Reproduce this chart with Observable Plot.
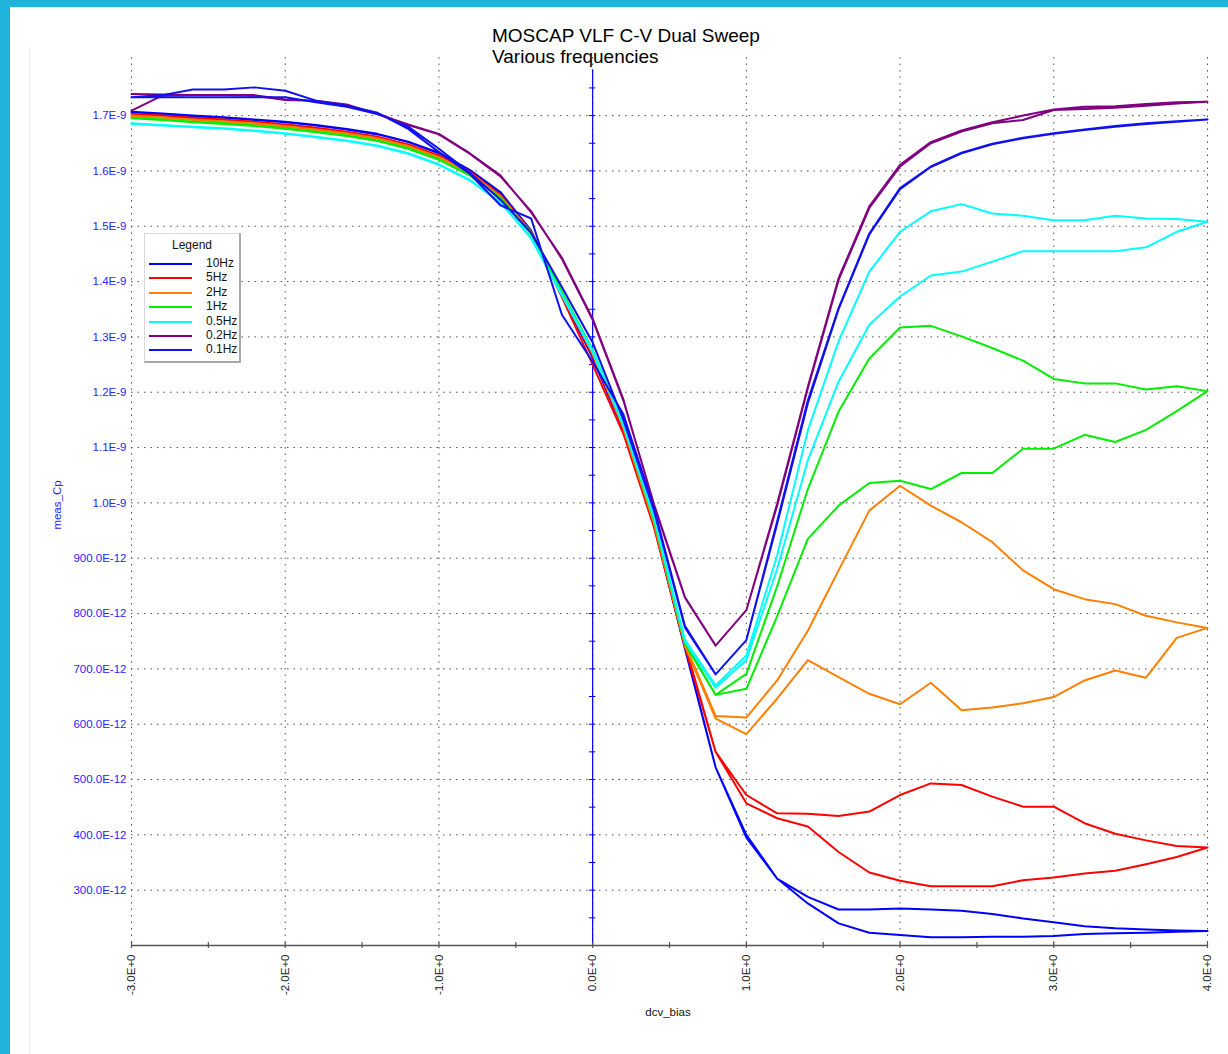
<!DOCTYPE html>
<html>
<head>
<meta charset="utf-8">
<script src="https://cdn.jsdelivr.net/npm/d3@7"></script>
<script src="https://cdn.jsdelivr.net/npm/@observablehq/plot@0.6"></script>
<style>
  html, body { margin: 0; padding: 0; background: #fff; }
  #wrap { position: relative; width: 1228px; height: 1054px; overflow: hidden; background: #fff;
          font-family: "Liberation Sans", Arial, sans-serif; }
  #wrap svg { position: absolute; left: 0; top: 0; }
  .abs { position: absolute; white-space: nowrap; }
</style>
</head>
<body>
<div id="wrap"></div>
<script>
// ---------------- DATA ----------------
const bias = [-3.0,-2.8,-2.6,-2.4,-2.2,-2.0,-1.8,-1.6,-1.4,-1.2,-1.0,-0.8,-0.6,-0.4,-0.2,0.0,0.2,0.4,0.6,0.8,1.0,1.2,1.4,1.6,1.8,2.0,2.2,2.4,2.6,2.8,3.0,3.2,3.4,3.6,3.8,4.0];

// capacitance in pF, branch A = forward sweep (-3 -> 4), branch B = return sweep (values listed at the same bias order)
const cp10A  = [1706,1703,1699,1696,1692,1688,1682,1675,1666,1652,1632,1601,1560,1490,1375,1262,1130,958,737,522,395,321,276,240,223,219,215,215,216,216,217,221,222,223,225,226];
const cp10B  = [1707,1704,1700,1697,1693,1689,1683,1676,1667,1653,1633,1602,1562,1492,1378,1266,1133,960,740,522,400,321,288,265,265,267,265,263,257,249,242,235,231,229,227,226];
const cp5A   = [1702,1699,1695,1692,1688,1683,1677,1670,1661,1647,1627,1598,1556,1488,1372,1250,1125,955,740,550,457,430,415,369,332,317,307,307,307,318,323,330,335,347,360,377];
const cp5B   = [1703,1700,1696,1693,1689,1684,1678,1671,1662,1648,1628,1599,1557,1490,1380,1265,1135,962,745,550,472,439,438,434,442,472,493,490,469,451,451,421,402,390,380,377];
const cp2A   = [1699,1696,1692,1689,1685,1680,1674,1667,1658,1644,1624,1596,1553,1487,1378,1270,1135,962,742,610,582,646,716,685,655,636,675,625,630,638,649,679,697,684,756,774];
const cp2B   = [1700,1697,1693,1690,1686,1681,1675,1668,1659,1645,1625,1597,1554,1489,1381,1272,1138,965,745,615,612,679,769,878,986,1031,995,965,929,878,844,826,817,796,784,774];
const cp1A   = [1695,1692,1688,1685,1681,1676,1670,1663,1654,1640,1620,1592,1551,1486,1380,1275,1140,968,746,653,664,795,935,995,1036,1040,1025,1054,1054,1098,1098,1123,1110,1132,1166,1202];
const cp1B   = [1696,1693,1689,1686,1682,1677,1671,1664,1655,1641,1621,1593,1552,1488,1382,1277,1142,970,748,653,691,849,1025,1165,1261,1317,1320,1301,1280,1257,1224,1216,1216,1205,1211,1202];
const cp05A  = [1685,1682,1679,1676,1672,1667,1661,1654,1645,1631,1611,1583,1543,1478,1375,1272,1140,972,750,666,716,880,1077,1219,1322,1373,1411,1418,1436,1455,1455,1455,1455,1462,1490,1508];
const cp05B  = [1686,1683,1680,1677,1673,1668,1662,1655,1646,1632,1612,1584,1544,1480,1377,1275,1143,975,753,670,724,905,1131,1292,1418,1490,1527,1540,1523,1519,1511,1511,1519,1514,1513,1508];
const cp02A  = [1709,1736,1737,1737,1736,1728,1727,1719,1704,1683,1666,1631,1590,1527,1441,1331,1185,997,830,742,806,995,1207,1403,1533,1608,1650,1671,1686,1692,1710,1712,1714,1718,1722,1725];
const cp02B  = [1739,1738,1737,1737,1737,1729,1727,1720,1703,1684,1667,1632,1592,1525,1443,1333,1187,995,829,742,806,998,1210,1406,1536,1611,1652,1673,1688,1700,1711,1716,1717,1721,1724,1725];
const cp01A  = [1733,1737,1747,1747,1751,1745,1727,1718,1705,1676,1634,1595,1538,1514,1340,1255,1160,990,778,690,752,966,1185,1352,1487,1569,1608,1633,1649,1660,1668,1675,1681,1686,1690,1693];
const cp01B  = [1733,1733,1733,1733,1733,1733,1724,1716,1703,1680,1640,1597,1548,1488,1390,1290,1150,985,775,690,752,962,1180,1350,1485,1567,1607,1632,1648,1659,1667,1674,1680,1685,1689,1693];

const freqs  = ["10Hz","5Hz","2Hz","1Hz","0.5Hz","0.2Hz","0.1Hz"];
const colors = ["#0000ff","#ff0000","#ff8000","#00ee00","#00ffff","#800080","#1010ee"];
const seriesA = [cp10A, cp5A, cp2A, cp1A, cp05A, cp02A, cp01A];
const seriesB = [cp10B, cp5B, cp2B, cp1B, cp05B, cp02B, cp01B];

const xTicks = [-3,-2,-1,0,1,2,3,4];
const xTickLabels = ["-3.0E+0","-2.0E+0","-1.0E+0","0.0E+0","1.0E+0","2.0E+0","3.0E+0","4.0E+0"];
const xMinor = [-3,-2.5,-2,-1.5,-1,-0.5,0,0.5,1,1.5,2,2.5,3,3.5,4];
const yTicks = [300,400,500,600,700,800,900,1000,1100,1200,1300,1400,1500,1600,1700];
const yTickLabels = ["300.0E-12","400.0E-12","500.0E-12","600.0E-12","700.0E-12","800.0E-12","900.0E-12","1.0E-9","1.1E-9","1.2E-9","1.3E-9","1.4E-9","1.5E-9","1.6E-9","1.7E-9"];
const yAxisTicks = [250,300,350,400,450,500,550,600,650,700,750,800,850,900,950,1000,1050,1100,1150,1200,1250,1300,1350,1400,1450,1500,1550,1600,1650,1700,1750];

// ---------------- BUILD ----------------
const rows = [];
freqs.forEach((f, k) => {
  const A = seriesA[k], B = seriesB[k];
  for (let i = 0; i < bias.length; i++) rows.push({freq: f, bias: bias[i], cp: A[i]});
  for (let i = bias.length - 1; i >= 0; i--) rows.push({freq: f, bias: bias[i], cp: B[i]});
});
const drawOrder = ["10Hz","5Hz","2Hz","1Hz","0.5Hz","0.2Hz","0.1Hz"];

const xLab = new Map(xTicks.map((d, i) => [d, xTickLabels[i]]));
const yLab = new Map(yTicks.map((d, i) => [d, yTickLabels[i]]));

const dots = {stroke: "#505050", strokeWidth: 1, strokeDasharray: "1.5,5"};

const chart = Plot.plot({
  width: 1228, height: 1054,
  marginLeft: 131, marginRight: 21, marginTop: 57, marginBottom: 109,
  style: {fontFamily: "'Liberation Sans', Arial, sans-serif", background: "transparent", overflow: "visible"},
  x: {domain: [-3, 4]},
  y: {domain: [200, 1805]},
  color: {domain: freqs, range: colors},
  marks: [
    Plot.ruleX(xTicks, dots),
    Plot.ruleY(yTicks, dots),
    Plot.ruleX([0], {y1: 200, y2: 1783, stroke: "#0000ff", strokeWidth: 1.2}),
    Plot.ruleY(yAxisTicks, {x1: -0.021, x2: 0.021, stroke: "#0000ff", strokeWidth: 1}),
    ...drawOrder.map(f => Plot.line(rows.filter(r => r.freq === f), {x: "bias", y: "cp", stroke: "freq", strokeWidth: 2})),
    Plot.ruleY([200], {stroke: "#555", strokeWidth: 1.5}),
    Plot.ruleX(xMinor, {y1: 194.5, y2: 205.5, stroke: "#555", strokeWidth: 1.2}),
    Plot.axisX({ticks: xTicks, tickFormat: d => xLab.get(d), tickRotate: -90, tickSize: 0, tickPadding: 9,
                fontSize: 11.5, color: "#222", label: null}),
    Plot.axisY({ticks: yTicks, tickFormat: d => yLab.get(d), tickSize: 0, tickPadding: 5,
                fontSize: 11.5, color: "#2626ff", label: null})
  ]
});

const wrap = document.getElementById("wrap");
// frame decorations
wrap.insertAdjacentHTML("beforeend",
  '<div class="abs" style="left:0;top:0;width:10px;height:1054px;background:#20b4dc"></div>' +
  '<div class="abs" style="left:0;top:0;width:1228px;height:7px;background:#20b4dc"></div>' +
  '<div class="abs" style="left:29px;top:47px;width:1px;height:1007px;background:#ececec"></div>');
wrap.appendChild(chart);

// title
wrap.insertAdjacentHTML("beforeend",
  '<div class="abs" style="left:492px;top:25px;font-size:19px;line-height:21px;color:#000">MOSCAP VLF C-V Dual Sweep<br>Various frequencies</div>');

// axis labels
wrap.insertAdjacentHTML("beforeend",
  '<div class="abs" style="left:668px;top:1012px;transform:translate(-50%,-50%);font-size:11.5px;color:#111">dcv_bias</div>' +
  '<div class="abs" style="left:57px;top:505px;transform:translate(-50%,-50%) rotate(-90deg);font-size:11.5px;color:#2626ff">meas_Cp</div>');

// legend
let leg = '<div class="abs" style="left:144px;top:233px;width:94px;height:127px;background:#fff;' +
  'border-left:1px solid #d8d8d8;border-top:1px solid #d8d8d8;border-right:2px solid #a8a8a8;border-bottom:2px solid #a8a8a8;">' +
  '<div class="abs" style="left:0;width:94px;top:4px;text-align:center;font-size:12px;color:#111">Legend</div>';
freqs.forEach((f, i) => {
  const cy = 30 + i * 14.4;
  leg += `<div class="abs" style="left:4px;top:${cy - 1}px;width:43px;height:2px;background:${colors[i]}"></div>`;
  leg += `<div class="abs" style="left:61px;top:${cy - 8}px;font-size:12px;line-height:15px;color:#111">${f}</div>`;
});
leg += '</div>';
wrap.insertAdjacentHTML("beforeend", leg);
</script>
</body>
</html>
